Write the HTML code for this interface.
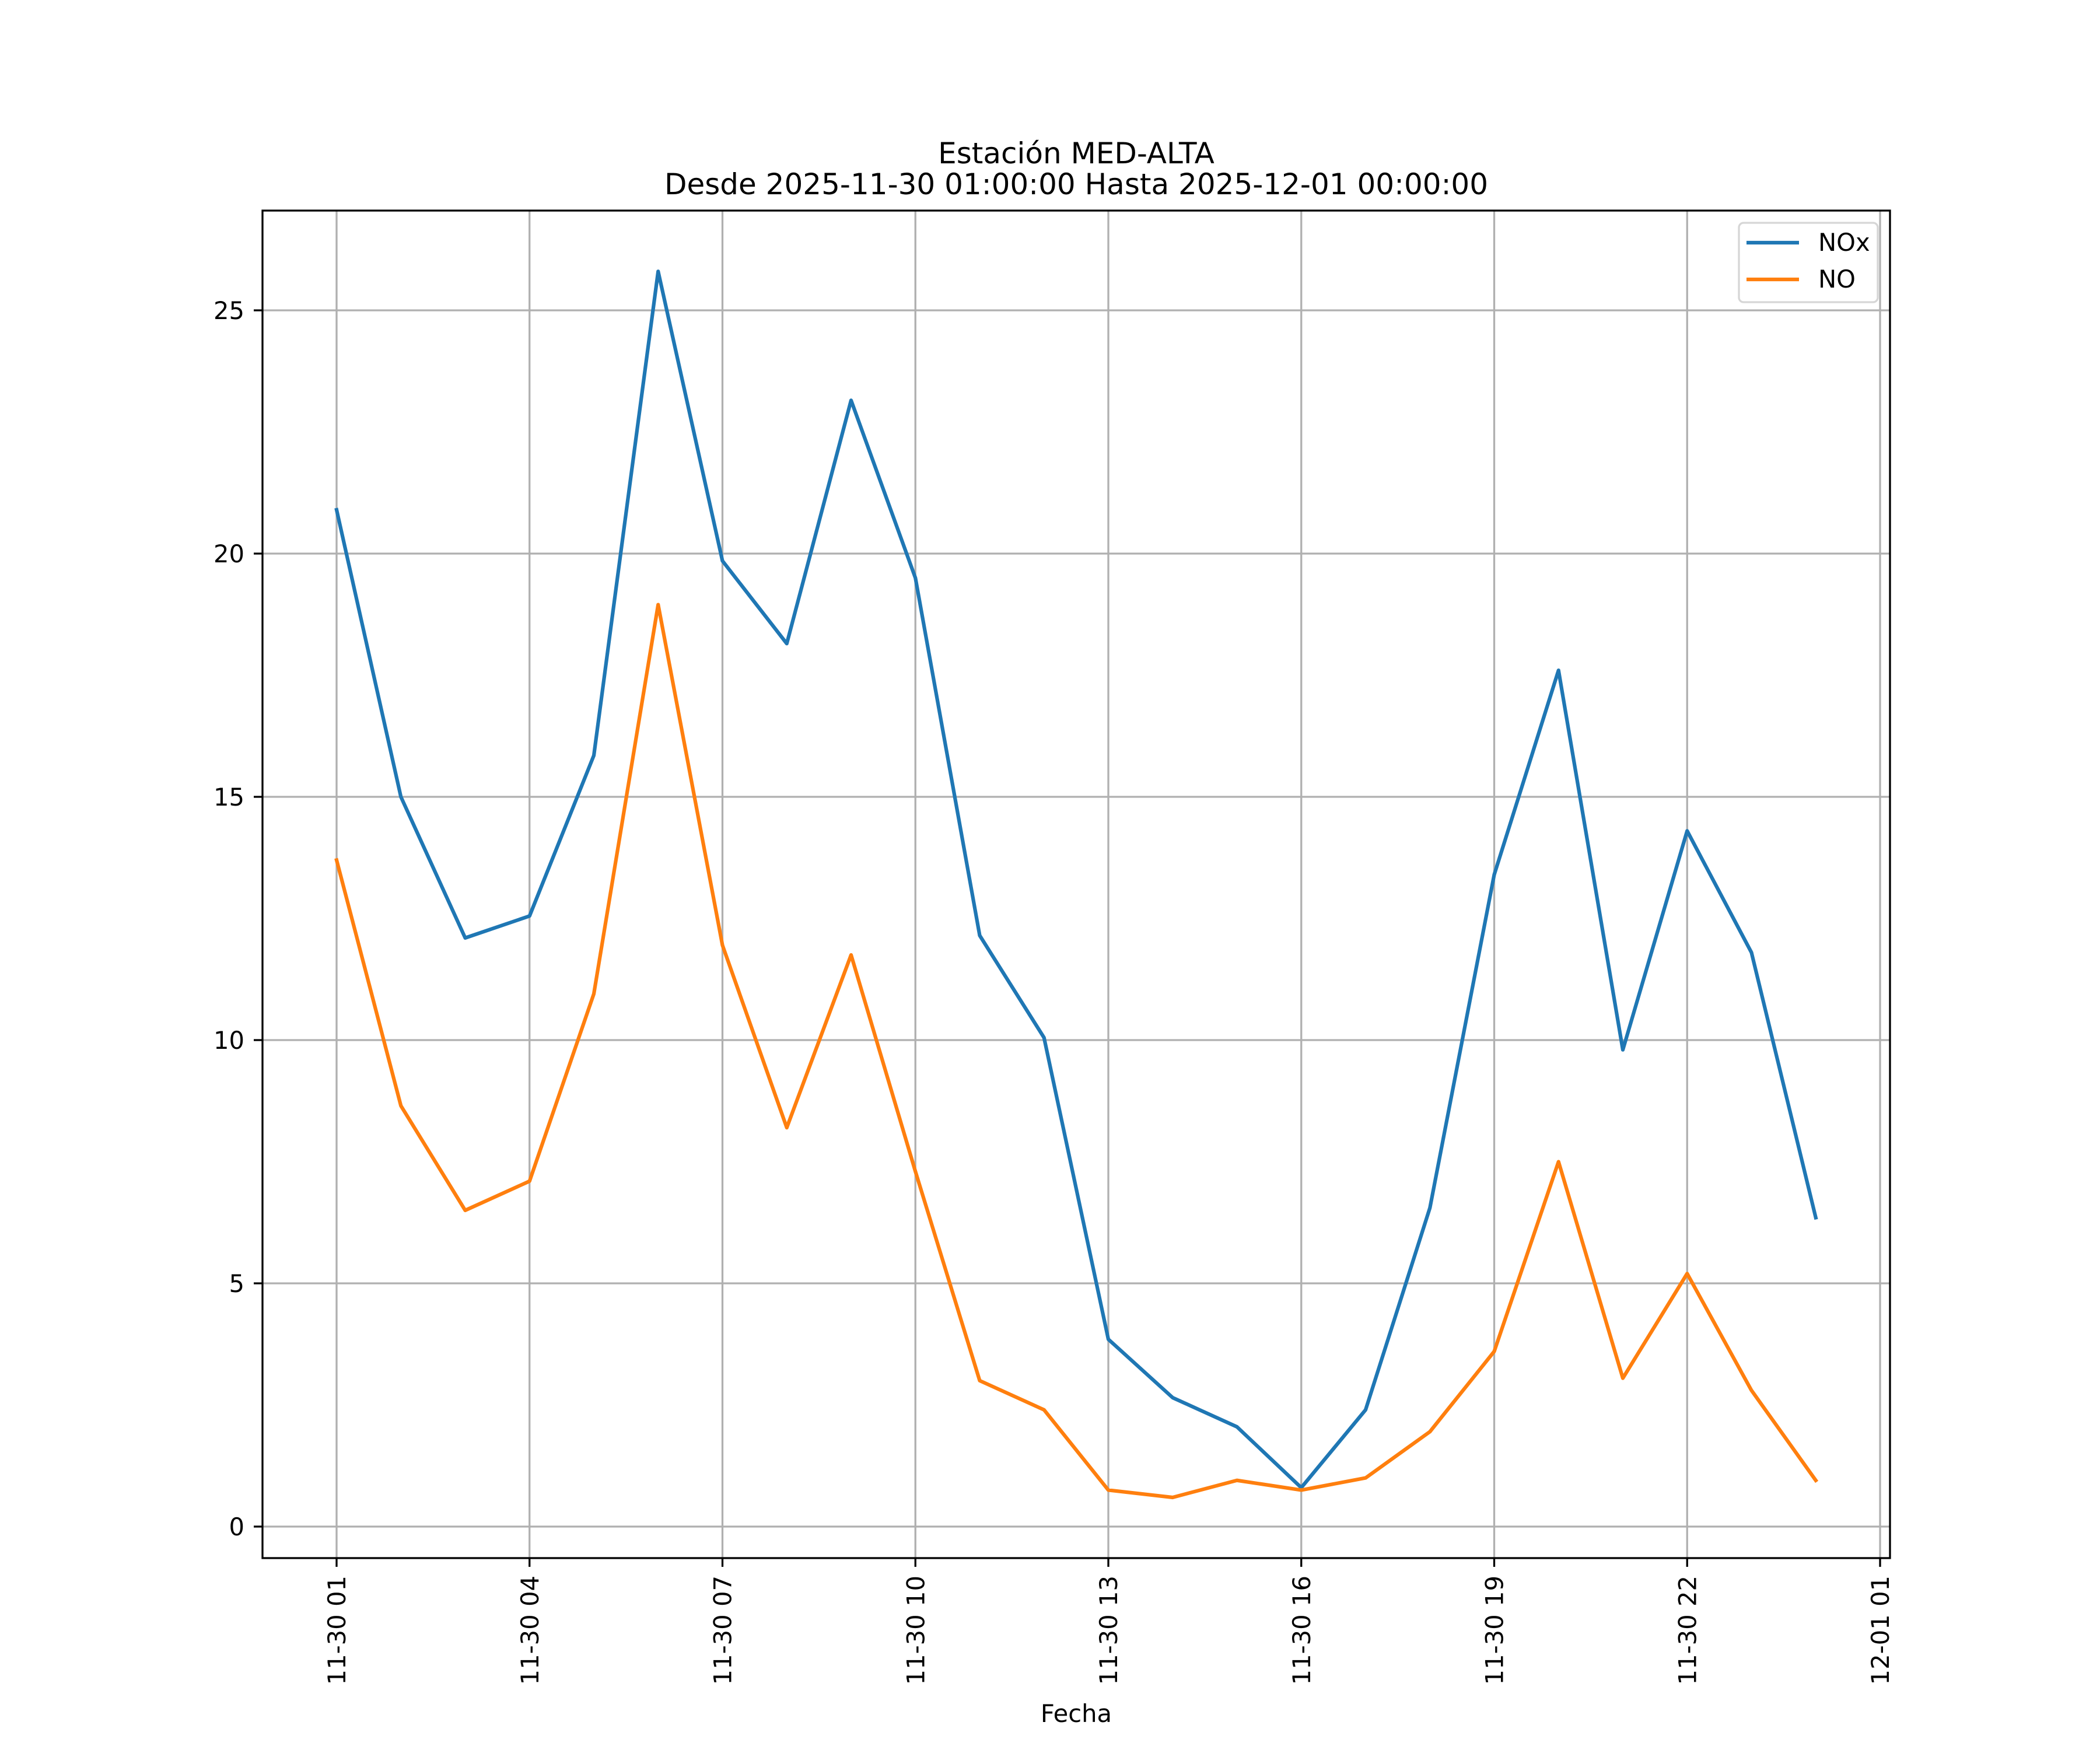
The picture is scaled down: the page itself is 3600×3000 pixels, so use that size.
<!DOCTYPE html>
<html><head><meta charset="utf-8"><style>
html,body{margin:0;padding:0;background:#fff}
svg{display:block}
text{font-family:"DejaVu Sans","Liberation Sans",sans-serif;fill:#000}
</style></head><body>
<svg id="chart" width="3600" height="3000" viewBox="0 0 3600 3000" xmlns="http://www.w3.org/2000/svg">
<rect x="0" y="0" width="3600" height="3000" fill="#fff"/>
<text x="1845" y="280" font-size="50" text-anchor="middle">Estación MED-ALTA</text>
<text x="1845" y="333" font-size="50" text-anchor="middle">Desde 2025-11-30 01:00:00 Hasta 2025-12-01 00:00:00</text>
<g id="grid"></g>
<g id="series"></g>
<rect x="450" y="361" width="2790" height="2310" fill="none" stroke="#000" stroke-width="3.3"/>
<g id="ticks"></g>
<text x="1845" y="2952" font-size="41.7" text-anchor="middle">Fecha</text>
<g>
<rect x="2981" y="382" width="238" height="136" rx="8" fill="#fff" fill-opacity="0.8" stroke="#d6d6d6" stroke-width="3.3"/>
<line x1="2994" y1="416" x2="3084" y2="416" stroke="#1f77b4" stroke-width="6.25"/>
<text x="3117" y="430" font-size="41.7">NOx</text>
<line x1="2994" y1="479" x2="3084" y2="479" stroke="#ff7f0e" stroke-width="6.25"/>
<text x="3117" y="493" font-size="41.7">NO</text>
</g>
</svg>
<script>
const hours = [1,2,3,4,5,6,7,8,9,10,11,12,13,14,15,16,17,18,19,20,21,22,23,24];
const nox = [20.9,15.0,12.1,12.55,15.85,25.8,19.85,18.15,23.15,19.5,12.15,10.05,3.85,2.65,2.05,0.8,2.4,6.55,13.4,17.6,9.8,14.3,11.8,6.35];
const no = [13.7,8.65,6.5,7.1,10.95,18.95,11.95,8.2,11.75,7.3,3.0,2.4,0.75,0.6,0.95,0.75,1.0,1.95,3.6,7.5,3.05,5.2,2.8,0.95];
const yTicks = [0,5,10,15,20,25];
const xTickHours = [1,4,7,10,13,16,19,22,25];
const xTickLabels = ["11-30 01","11-30 04","11-30 07","11-30 10","11-30 13","11-30 16","11-30 19","11-30 22","12-01 01"];

const NS = "http://www.w3.org/2000/svg";
function xs(h){ return 577 + (h-1)*(3223-577)/24; }
function ys(v){ return 2617 - v*(2617-532)/25; }
function mk(tag, attrs, parent){
  const e = document.createElementNS(NS, tag);
  for (const k in attrs) e.setAttribute(k, attrs[k]);
  parent.appendChild(e); return e;
}
const grid = document.getElementById('grid');
const ticks = document.getElementById('ticks');
const series = document.getElementById('series');

yTicks.forEach(v => {
  const g = mk('line', {x1:450, x2:3240, y1:ys(v), y2:ys(v), stroke:'#b0b0b0', 'stroke-width':3.3}, grid);
  
  
  mk('line', {x1:435, x2:450, y1:ys(v), y2:ys(v), stroke:'#000', 'stroke-width':3.3}, ticks);
  const t = mk('text', {x:419, y:ys(v)+15, 'font-size':41.7, 'text-anchor':'end'}, ticks);
  t.textContent = v;
  
  
});
xTickHours.forEach((h, i) => {
  const x = xs(h);
  const g = mk('line', {x1:x, x2:x, y1:361, y2:2671, stroke:'#b0b0b0', 'stroke-width':3.3}, grid);
  
  
  mk('line', {x1:x, x2:x, y1:2671, y2:2686, stroke:'#000', 'stroke-width':3.3}, ticks);
  const t = mk('text', {x:0, y:0, 'font-size':41.7, 'text-anchor':'end', transform:`translate(${x+15},2701) rotate(-90)`}, ticks);
  t.textContent = xTickLabels[i];
  
  
});
function drawLine(vals, color, name){
  const pts = vals.map((v,i) => xs(hours[i]) + ',' + ys(v)).join(' ');
  const p = mk('polyline', {points:pts, fill:'none', stroke:color, 'stroke-width':6.25, 'stroke-linejoin':'round', 'stroke-linecap':'square'}, series);
  
  
}
drawLine(nox, '#1f77b4', 'nox-line');
drawLine(no, '#ff7f0e', 'no-line');
</script>
</body></html>
